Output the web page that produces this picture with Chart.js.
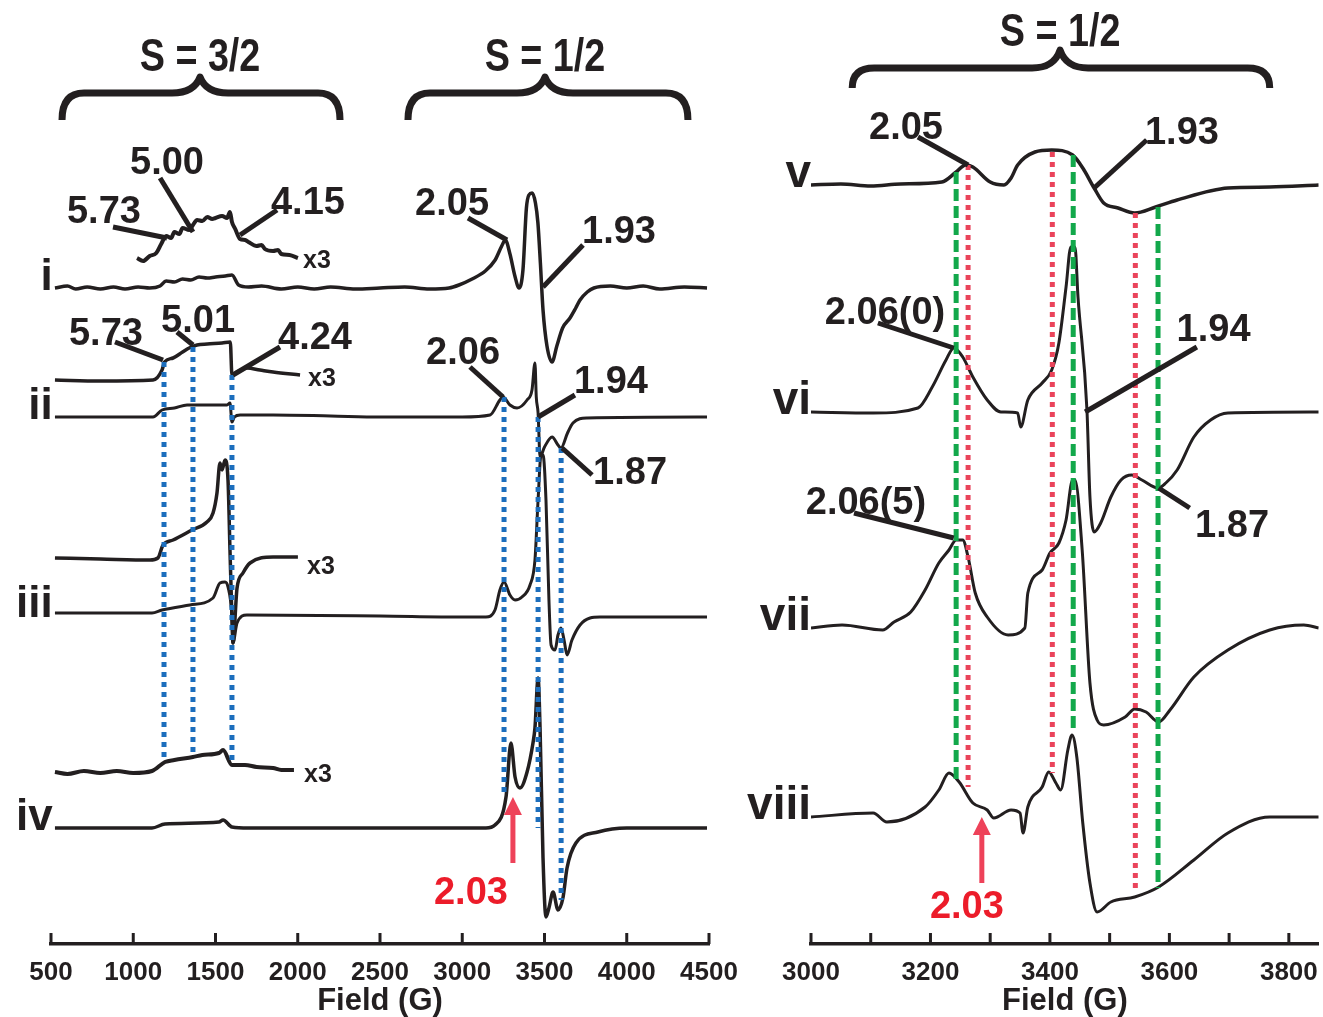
<!DOCTYPE html>
<html>
<head>
<meta charset="utf-8">
<script src="https://cdn.jsdelivr.net/npm/chart.js@4.4.1/dist/chart.umd.min.js"></script>
<style>
body { margin: 0; background: #fff; width: 1323px; height: 1017px; overflow: hidden; position: relative; }
canvas { position: absolute; top: 0; }
#left { left: 0; }
#right { left: 740px; }
</style>
</head>
<body>
<canvas id="left" width="760" height="1017"></canvas>
<canvas id="right" width="583" height="1017"></canvas>
<script>
// spectra: [field (G), signal above own baseline]
var traceI = [[524,0],[600,2],[650,-1],[720,1],[800,-1],[880,1],[950,-1],[1030,1],[1100,0],[1163,2],[1200,7],[1250,6],[1300,9],[1350,8],[1400,11],[1450,10],[1500,11],[1560,12],[1600,13],[1640,3],[1700,1],[1780,2],[1900,-1],[2000,1],[2100,-1],[2200,1],[2350,-1],[2500,0],[2650,1],[2800,-1],[2920,0],[2980,3],[3060,9],[3140,17],[3200,28],[3240,42],[3262,48],[3290,34],[3320,12],[3345,0],[3369,18],[3390,80],[3405,93],[3425,95],[3445,85],[3460,65],[3475,25],[3491,-22],[3515,-58],[3546,-74],[3575,-58],[3610,-40],[3655,-30],[3690,-20],[3716,-12],[3760,-4],[3800,0],[3900,2],[4000,0],[4100,2],[4200,-1],[4350,1],[4488,0]];
var traceIx3 = [[1023,0],[1060,-3],[1100,2],[1140,5],[1170,14],[1200,22],[1230,20],[1250,26],[1280,24],[1300,30],[1340,28],[1363,33],[1388,38],[1420,37],[1450,41],[1480,39],[1500,40],[1540,42],[1570,40],[1588,46],[1600,36],[1620,29],[1649,19],[1680,18],[1700,16],[1750,12],[1780,13],[1800,9],[1850,7],[1880,8],[1900,4],[1950,3],[2001,0]];
var traceII = [[524,0],[800,0],[1120,0],[1175,7],[1250,9],[1327,12],[1450,12],[1570,12],[1588,14],[1600,-5],[1615,0],[1650,2],[1850,2],[2200,1],[2500,0],[3000,0],[3169,2],[3229,17],[3248,20],[3290,12],[3333,9],[3394,17],[3424,27],[3442,54],[3450,20],[3461,4],[3473,-40],[3500,-30],[3546,-20],[3582,-28],[3600,-31],[3640,-16],[3673,-6],[3758,-1],[4488,0]];
var traceIIx3 = [[524,0],[800,-1],[1120,0],[1175,10],[1190,18],[1242,22],[1300,28],[1340,32],[1388,35],[1450,36],[1540,37],[1590,38],[1600,5],[1631,8],[1691,12],[1770,10],[1850,8],[2014,5]];
var traceIII = [[524,2],[1114,2],[1175,5],[1345,10],[1485,17],[1527,32],[1558,33],[1576,28],[1600,-2],[1606,-28],[1631,-8],[1691,0],[2500,-1],[3000,-2],[3144,-2],[3199,5],[3229,25],[3254,33],[3290,20],[3321,15],[3363,18],[3412,30],[3442,55],[3461,115],[3479,160],[3491,160],[3509,115],[3527,15],[3540,-30],[3564,-35],[3582,-20],[3600,-13],[3619,-25],[3637,-40],[3667,-25],[3716,-10],[3777,-3],[3837,-2],[4488,-2]];
var traceIIIx3 = [[524,0],[800,-1],[1102,-2],[1150,0],[1181,13],[1242,18],[1357,28],[1448,36],[1485,45],[1509,65],[1527,95],[1540,88],[1558,98],[1576,78],[1588,8],[1600,-60],[1606,-85],[1631,-30],[1667,-15],[1710,-5],[1850,1],[2001,1]];
var traceIV = [[524,0],[1114,0],[1193,4],[1521,6],[1546,8],[1600,1],[1700,0],[3000,0],[3144,0],[3199,3],[3266,31],[3296,85],[3321,51],[3351,40],[3394,56],[3430,85],[3442,100],[3461,150],[3473,100],[3491,-30],[3509,-89],[3527,-80],[3552,-64],[3582,-82],[3612,-70],[3637,-40],[3691,-15],[3825,-4],[4000,0],[4488,0]];
var traceIVx3 = [[524,0],[600,-2],[700,1],[800,-1],[900,1],[1000,-1],[1114,1],[1193,10],[1250,12],[1363,15],[1420,17],[1521,19],[1546,22],[1600,7],[1679,7],[1750,5],[1850,4],[1900,2],[1977,2]];

var traceV = [[3000,0],[3050,1],[3100,-1],[3150,1],[3219,3],[3243,13],[3259,20],[3271,18],[3300,3],[3323,0],[3335,7],[3346,20],[3375,33],[3403,35],[3438,30],[3455,17],[3474,-3],[3490,-18],[3514,-23],[3542,-28],[3577,-22],[3613,-15],[3698,-3],[3768,-2],[3850,0]];
var traceVI = [[3000,0],[3104,-1],[3179,4],[3203,25],[3226,52],[3239,64],[3254,55],[3271,35],[3295,12],[3318,0],[3346,-1],[3351,-15],[3363,12],[3387,29],[3403,42],[3415,69],[3427,125],[3435,165],[3442,165],[3447,115],[3462,2],[3467,-85],[3474,-120],[3485,-111],[3502,-85],[3519,-68],[3537,-63],[3554,-68],[3581,-76],[3594,-71],[3613,-58],[3641,-25],[3669,-8],[3698,-1],[3850,0]];
var traceVII = [[3000,0],[3052,3],[3120,-2],[3139,6],[3167,16],[3191,38],[3214,65],[3231,78],[3243,88],[3254,88],[3263,71],[3275,35],[3295,11],[3330,-7],[3358,0],[3363,35],[3387,58],[3400,75],[3415,85],[3427,108],[3438,148],[3442,148],[3454,78],[3467,-55],[3479,-92],[3490,-97],[3526,-89],[3542,-81],[3561,-84],[3582,-94],[3601,-82],[3641,-49],[3698,-22],[3768,-2],[3825,3],[3850,0]];
var traceVIII = [[3000,0],[3104,4],[3127,-5],[3191,10],[3214,27],[3231,44],[3248,35],[3271,14],[3295,7],[3306,-1],[3335,7],[3350,4],[3355,-16],[3363,10],[3387,30],[3398,45],[3410,34],[3418,27],[3430,67],[3437,82],[3445,60],[3455,-6],[3467,-66],[3479,-95],[3502,-85],[3542,-80],[3582,-70],[3641,-43],[3698,-16],[3768,0],[3850,0]];

var leftTraces = [traceI, traceIx3, traceII, traceIIx3, traceIII, traceIIIx3, traceIV, traceIVx3];
var leftOffsets = [656, 686, 527, 564, 329, 386, 116, 172];
var leftWidths = [3.5, 4, 3, 3.5, 3, 3.5, 3.5, 4];
var rightTraces = [traceV, traceVI, traceVII, traceVIII];
var rightOffsets = [759, 532, 316, 127];
var rightWidths = [3.5, 3, 3, 3];

var leftTicks = [500, 1000, 1500, 2000, 2500, 3000, 3500, 4000, 4500];
var rightTicks = [3000, 3200, 3400, 3600, 3800];

// annotations, in field / intensity units
var leftRomans = [['i', 656], ['ii', 527], ['iii', 329], ['iv', 116]];
var rightRomans = [['v', 759], ['vi', 532], ['vii', 316], ['viii', 127]];
var leftGuides = [[1187,582,182],[1363,597,187],[1600,569,184],[3254,547,147],[3461,527,116],[3601,496,44]];
var greenGuides = [[3243,772,164],[3439,789,211],[3581,737,56]];
var redGuides = [[3263,779,157],[3404,792,171],[3543,731,52]];
var leftLabels = [
  ['5.00',1205,784,1163,766,1363,712],
  ['5.73',822,735,877,717,1205,706],
  ['4.15',2062,744,1874,734,1649,709],
  ['2.05',2938,743,3035,726,3272,704],
  ['1.93',3953,715,3734,699,3491,657],
  ['5.73',834,613,889,602,1181,584],
  ['5.01',1394,626,1266,612,1363,599],
  ['4.24',2105,609,1892,597,1606,569],
  ['2.06',3005,594,3047,577,3248,547],
  ['1.94',3904,565,3685,549,3461,527],
  ['1.87',4020,474,3789,469,3607,496]
];
var leftX3 = [[2117,685],[2147,567],[2141,379],[2123,171]];
var rightLabels = [
  ['2.05',3159,819,3179,807,3263,779],
  ['1.93',3621,814,3562,804,3474,756],
  ['2.06(0)',3124,634,3112,621,3239,596],
  ['1.94',3674,617,3646,597,3459,532],
  ['2.06(5)',3092,444,3072,431,3239,406],
  ['1.87',3705,421,3634,436,3582,456]
];
var leftArrows = [['2.03',3308,147,81,3053,54]];
var rightArrows = [['2.03',3286,127,61,3261,40]];
var leftBraces = [['S = 3/2',567,2257,1406,824,851,867,889],['S = 1/2',2670,4372,3503,824,851,867,889]];
var rightBraces = [['S = 1/2',3069,3768,3417,856,876,894,914]];

var INK = '#231f20';
var FONT = '"Liberation Sans", Arial, sans-serif';

function toSets(traces, offsets, widths) {
    var sets = [];
    for (var i = 0; i < traces.length; i++) {
        sets.push({
            data: traces[i].map(function(p){ return {x: p[0], y: p[1] + offsets[i]}; }),
            borderColor: INK,
            borderWidth: widths[i],
            pointRadius: 0,
            cubicInterpolationMode: 'monotone',
            fill: false
        });
    }
    return sets;
}

function makeMarks(cfg) {
    return {
        id: 'marks',
        afterDatasetsDraw: function(chart) {
            var ctx = chart.ctx, sx = chart.scales.x, sy = chart.scales.y;
            function X(f){ return sx.getPixelForValue(f); }
            function Y(v){ return sy.getPixelForValue(v); }
            ctx.save();
            ctx.lineCap = 'butt';
            cfg.guides.forEach(function(g){
                ctx.strokeStyle = g.color; ctx.lineWidth = 5; ctx.setLineDash(g.dash);
                g.list.forEach(function(d){
                    ctx.beginPath(); ctx.moveTo(X(d[0]), Y(d[1])); ctx.lineTo(X(d[0]), Y(d[2])); ctx.stroke();
                });
            });
            ctx.setLineDash([]);
            // leader lines and values
            ctx.strokeStyle = INK; ctx.fillStyle = INK; ctx.lineWidth = 5;
            ctx.font = 'bold 38px ' + FONT; ctx.textAlign = 'center'; ctx.textBaseline = 'alphabetic';
            cfg.labels.forEach(function(l){
                ctx.beginPath(); ctx.moveTo(X(l[3]), Y(l[4])); ctx.lineTo(X(l[5]), Y(l[6])); ctx.stroke();
                ctx.fillText(l[0], X(l[1]), Y(l[2]) + 14);
            });
            ctx.font = 'bold 25px ' + FONT;
            cfg.x3.forEach(function(l){ ctx.fillText('x3', X(l[0]), Y(l[1]) + 9); });
            // roman trace names
            ctx.font = 'bold ' + cfg.romanSize + 'px ' + FONT; ctx.textAlign = 'right';
            cfg.romans.forEach(function(r){ ctx.fillText(r[0], X(cfg.romanField), Y(r[1]) + 2); });
            // red arrows
            cfg.arrows.forEach(function(a){
                var x = X(a[1]), yt = Y(a[2]), yb = Y(a[3]);
                ctx.fillStyle = '#ee4259';
                ctx.fillRect(x - 2.5, yt + 14, 5, yb - yt - 14);
                ctx.beginPath(); ctx.moveTo(x, yt); ctx.lineTo(x - 9, yt + 18); ctx.lineTo(x + 9, yt + 18); ctx.closePath(); ctx.fill();
                ctx.fillStyle = '#ec1c2a'; ctx.textAlign = 'center'; ctx.font = 'bold 38px ' + FONT;
                ctx.fillText(a[0], X(a[4]), Y(a[5]) + 14);
            });
            // braces with condensed headings
            ctx.strokeStyle = INK; ctx.fillStyle = INK; ctx.lineWidth = 7; ctx.lineJoin = 'round';
            cfg.braces.forEach(function(b){
                var x0 = X(b[1]), x1 = X(b[2]), xc = X(b[3]), ye = Y(b[4]), ya = Y(b[5]), yc = Y(b[6]);
                ctx.beginPath();
                ctx.moveTo(x0, ye);
                ctx.quadraticCurveTo(x0, ya, x0 + 22, ya);
                ctx.lineTo(xc - 28, ya);
                ctx.quadraticCurveTo(xc - 6, ya, xc, yc);
                ctx.quadraticCurveTo(xc + 6, ya, xc + 28, ya);
                ctx.lineTo(x1 - 22, ya);
                ctx.quadraticCurveTo(x1, ya, x1, ye);
                ctx.stroke();
                ctx.save();
                ctx.translate(xc, Y(b[7]) + 16);
                ctx.scale(0.82, 1);
                ctx.font = 'bold 46px ' + FONT; ctx.textAlign = 'center';
                ctx.fillText(b[0], 0, 0);
                ctx.restore();
            });
            ctx.restore();
        },
        afterDraw: function(chart) {
            // inward tick marks on the field axis
            var ctx = chart.ctx, sx = chart.scales.x, base = chart.chartArea.bottom;
            ctx.save();
            ctx.strokeStyle = INK; ctx.lineWidth = 3;
            sx.ticks.forEach(function(t){
                var x = sx.getPixelForValue(t.value);
                ctx.beginPath(); ctx.moveTo(x, base); ctx.lineTo(x, base - 11); ctx.stroke();
            });
            ctx.restore();
        }
    };
}

function makeChart(id, sets, xmin, xmax, step, shown, pad, marks) {
    return new Chart(document.getElementById(id), {
        type: 'line',
        data: { datasets: sets },
        options: {
            responsive: false,
            animation: false,
            devicePixelRatio: 1,
            layout: { padding: pad },
            plugins: { legend: { display: false }, tooltip: { enabled: false } },
            scales: {
                x: {
                    type: 'linear', min: xmin, max: xmax,
                    grid: { display: false },
                    border: { display: true, color: INK, width: 3.5 },
                    ticks: {
                        stepSize: step, includeBounds: false, autoSkip: false, maxRotation: 0,
                        padding: 5, color: INK, font: { family: FONT, size: 26, weight: 'bold' },
                        callback: function(v){ return shown.indexOf(v) >= 0 ? String(v) : ''; }
                    },
                    title: { display: true, text: 'Field (G)', color: INK, padding: 0,
                             font: { family: FONT, size: 31, weight: 'bold', lineHeight: 1 } },
                    afterFit: function(s){ s.height = 73; }
                },
                y: { display: false, min: 0, max: 944 }
            }
        },
        plugins: [marks]
    });
}

makeChart('left', toSets(leftTraces, leftOffsets, leftWidths), 500, 4500, 500, leftTicks,
    { left: 51, right: 51, top: 0, bottom: 0 },
    makeMarks({
        guides: [{ color: '#1c6ebd', dash: [5, 5], list: leftGuides }],
        labels: leftLabels, x3: leftX3, romans: leftRomans, romanField: 510, romanSize: 44,
        arrows: leftArrows, braces: leftBraces
    }));

makeChart('right', toSets(rightTraces, rightOffsets, rightWidths), 3000, 3850, 100, rightTicks,
    { left: 71, right: 4, top: 0, bottom: 0 },
    makeMarks({
        guides: [{ color: '#12a84b', dash: [12, 5], list: greenGuides }, { color: '#ea445b', dash: [5, 5], list: redGuides }],
        labels: rightLabels, x3: [], romans: rightRomans, romanField: 3000, romanSize: 46,
        arrows: rightArrows, braces: rightBraces
    }));
</script>
</body>
</html>
